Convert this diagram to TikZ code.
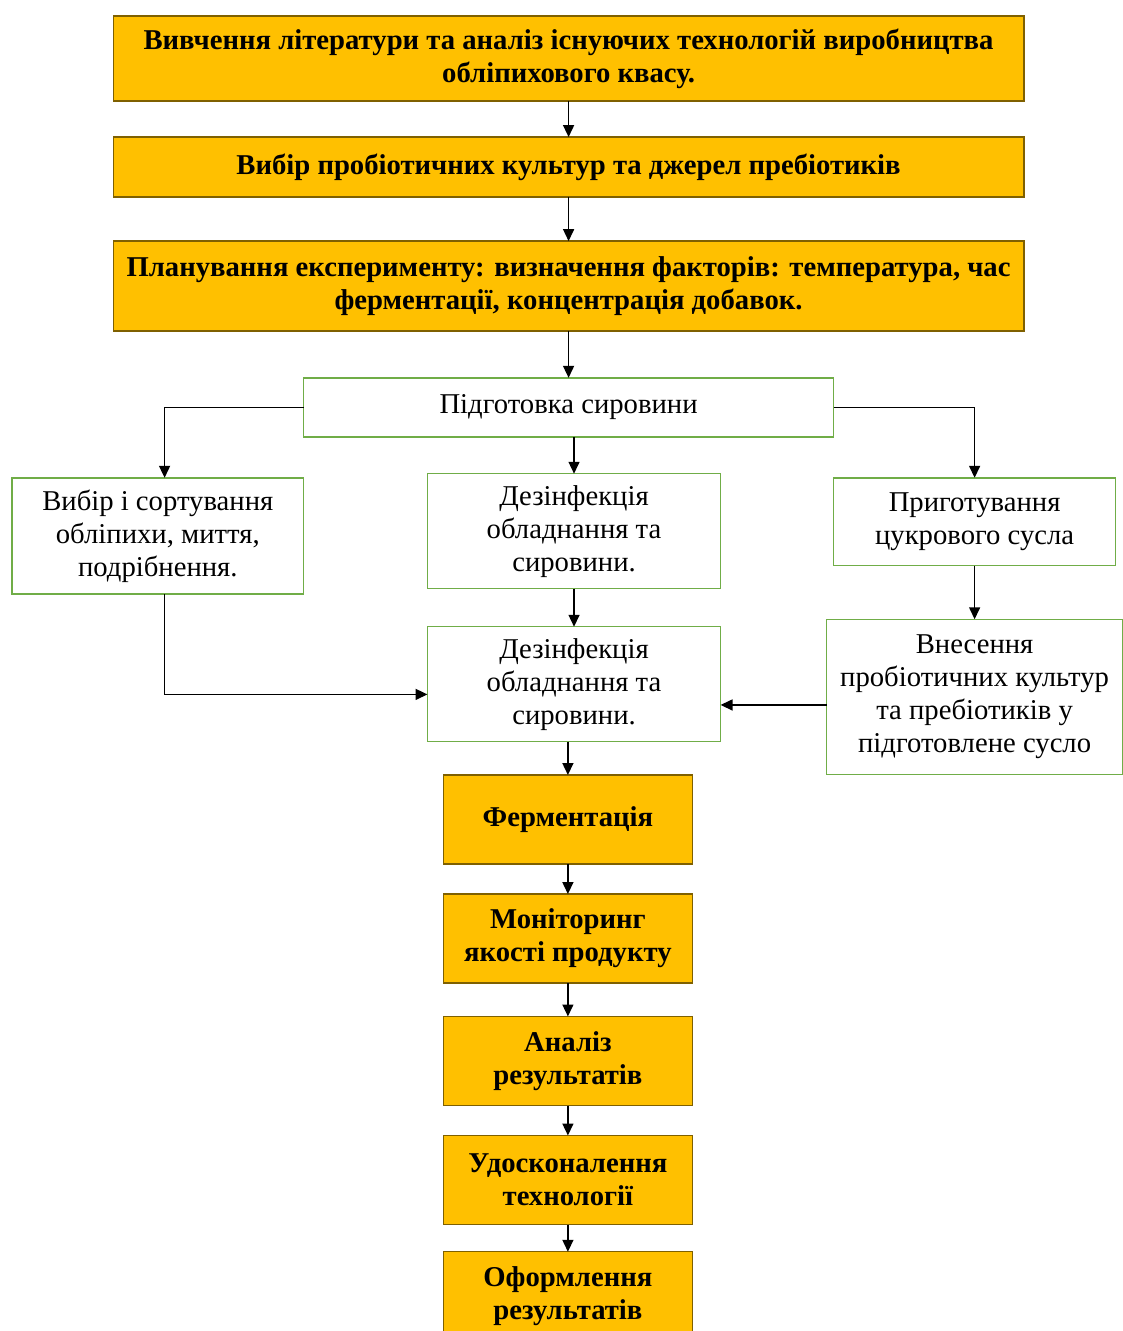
\documentclass[tikz,border=0pt]{standalone}
\usepackage{fontspec}
\setmainfont{Liberation Serif}
\usetikzlibrary{arrows.meta, positioning}
\definecolor{StageOrange}{HTML}{FFC000}
\definecolor{StageBorder}{HTML}{7F6000}
\definecolor{StepGreen}{HTML}{70AD47}
\tikzset{
    every node/.style={font=\fontsize{12}{13.8}\selectfont, outer sep=0pt},
    % Wide orange stage
    stage/.style={
        rectangle,
        draw=StageBorder,
        fill=StageOrange,
        line width=0.6pt,
        minimum width=13.39cm,
        align=center,
        font=\fontsize{12}{13.8}\selectfont\bfseries
    },
    % Small orange stage
    smallstage/.style={
        rectangle,
        draw=StageBorder,
        fill=StageOrange,
        line width=0.6pt,
        minimum width=3.66cm,
        minimum height=1.31cm,
        align=center,
        font=\fontsize{12}{13.8}\selectfont\bfseries
    },
    % Green step box
    stepbox/.style={
        rectangle,
        draw=StepGreen,
        fill=white,
        line width=0.6pt,
        minimum width=4.31cm,
        minimum height=1.69cm,
        align=center
    },
    % Arrow style
    arrow/.style={
        -{Triangle[length=5pt,width=4.6pt]},
        line width=0.6pt,
        color=black
    }
}
\begin{document}
\begin{tikzpicture}
    \useasboundingbox (0,0) rectangle (16.51,-19.57);
    % Preparation stages
    \node (lit) [stage, minimum height=1.25cm] at (8.36,-0.86) {Вивчення літератури та аналіз існуючих технологій виробництва\\обліпихового квасу.};
    \node (cult) [stage, below=0.53cm of lit, minimum height=0.88cm] {Вибір пробіотичних культур та джерел пребіотиків};
    \node (plan) [stage, below=0.65cm of cult, minimum height=1.32cm] {Планування експерименту: визначення факторів: температура, час\\ферментації, концентрація добавок.};

    % Raw material branch
    \node (raw) [stepbox, below=0.69cm of plan, minimum width=7.79cm, minimum height=0.87cm] {Підготовка сировини};
    \node (sort) [stepbox, minimum width=4.29cm, minimum height=1.71cm] at (2.32,-7.88) {Вибір і сортування\\обліпихи, миття,\\подрібнення.};
    \node (dis1) [stepbox, below=0.54cm of raw, xshift=0.08cm] {Дезінфекція\\обладнання та\\сировини.};
    \node (dis2) [stepbox, below=0.56cm of dis1] {Дезінфекція\\обладнання та\\сировини.};
    \node (wort) [stepbox, minimum width=4.15cm, minimum height=1.29cm] at (14.33,-7.67) {Приготування\\цукрового сусла};
    \node (inoc) [stepbox, below=0.79cm of wort, minimum width=4.35cm, minimum height=2.28cm] {Внесення\\пробіотичних культур\\та пребіотиків у\\підготовлене сусло};

    % Fermentation chain
    \node (ferm) [smallstage, below=0.49cm of dis2, xshift=-0.09cm] {Ферментація};
    \node (mon) [smallstage, below=0.44cm of ferm] {Моніторинг\\якості продукту};
    \node (anal) [smallstage, below=0.49cm of mon] {Аналіз\\результатів};
    \node (impr) [smallstage, below=0.44cm of anal] {Удосконалення\\технології};
    \node (rep) [smallstage, below=0.40cm of impr] {Оформлення\\результатів};

    \draw [arrow] (lit) -- (cult);
    \draw [arrow] (cult) -- (plan);
    \draw [arrow] (plan) -- (raw);
    \draw [arrow] (raw.west) -| ([xshift=0.1cm]sort.north);
    \draw [arrow] (raw.east) -| (wort);
    \draw [arrow] (raw.south -| dis1) -- (dis1);
    \draw [arrow] (dis1) -- (dis2);
    \draw [arrow] ([xshift=0.1cm]sort.south) |- ([yshift=-0.15cm]dis2.west);
    \draw [arrow] (wort) -- (inoc);
    \draw [arrow] ([yshift=-0.12cm]inoc.west) -- ([yshift=-0.12cm]inoc.west -| dis2.east);
    \draw [arrow] (ferm.north |- dis2.south) -- (ferm);
    \draw [arrow] (ferm) -- (mon);
    \draw [arrow] (mon) -- (anal);
    \draw [arrow] (anal) -- (impr);
    \draw [arrow] (impr) -- (rep);
\end{tikzpicture}
\end{document}
